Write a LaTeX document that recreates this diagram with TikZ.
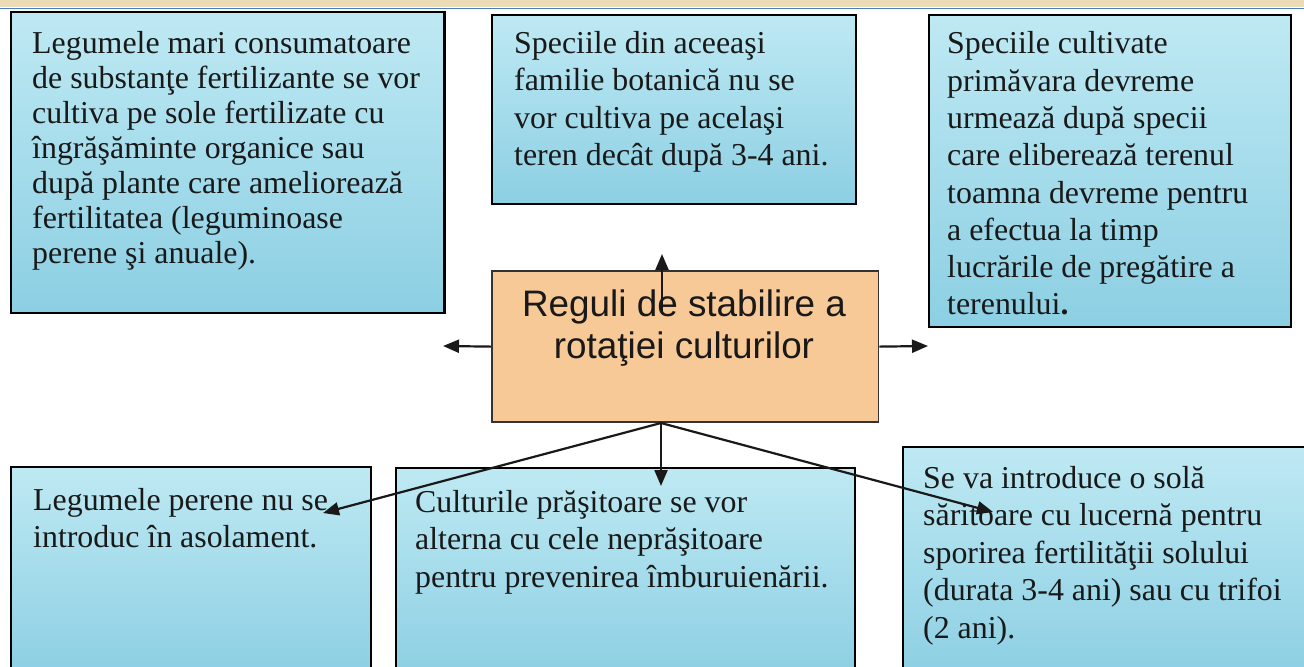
\documentclass[tikz,border=0pt]{standalone}
\usepackage{fontspec}
\setmainfont{Liberation Serif}
\newfontfamily\arialf{Liberation Sans}
\usetikzlibrary{arrows.meta,calc}
\definecolor{aqualight}{RGB}{190,233,243}
\definecolor{aquadark}{RGB}{140,207,227}
\definecolor{peach}{RGB}{247,201,150}
\definecolor{tanband}{RGB}{236,220,182}
\definecolor{blueline}{RGB}{70,125,195}
\definecolor{ink}{RGB}{25,25,25}
\begin{document}
\begin{tikzpicture}[x=1bp,y=-1bp,
  card/.style={draw=black,line width=2.2bp,top color=aqualight,bottom color=aquadark,inner sep=0,anchor=north west},
  cardtext/.style={anchor=base west,inner sep=0,align=left,text=ink,font=\fontsize{32}{37.5}\selectfont},
  hub/.style={draw=black!80,line width=1.8bp,fill=peach,inner sep=0,anchor=north west},
  link/.style={line width=2.2bp,draw=black!90,-{Triangle[length=16bp,width=13bp]}}
]
\useasboundingbox (0,0) rectangle (1304,666);
\clip (0,0) rectangle (1304,666);
\fill[white] (0,0) rectangle (1304,666);
% top band
\fill[tanband] (0,0) rectangle (1304,7.5);
\draw[blueline,line width=1.5bp] (0,8.5) -- (1304,8.5);

% cards
\node[card,minimum width=435,minimum height=302] (b1) at (10,11) {};
\node[card,minimum width=365,minimum height=190] (b2) at (491,14) {};
\node[card,minimum width=363,minimum height=313] (b3) at (928,14) {};
\node[card,minimum width=361,minimum height=210] (b4) at (10,466) {};
\node[card,minimum width=461,minimum height=210] (b5) at (395,467) {};
\node[card,minimum width=410,minimum height=230] (b6) at (902,446) {};
\node[hub,minimum width=388,minimum height=152] (c) at (491,270) {};

% texts (base anchor = baseline of the last line)
\node[cardtext,font=\fontsize{32}{35}\selectfont] (t1) at (32,263) {Legumele mari consumatoare\\de substanţe fertilizante se vor\\cultiva pe sole fertilizate cu\\îngrăşăminte organice sau\\după plante care ameliorează\\fertilitatea (leguminoase\\perene şi anuale).};
\node[cardtext] (t2) at (514,165.5) {Speciile din aceeaşi\\familie botanică nu se\\vor cultiva pe acelaşi\\teren decât după 3-4 ani.};
\node[cardtext,font=\fontsize{32}{37.4}\selectfont] (t3) at (947,314.8) {Speciile cultivate\\primăvara devreme\\urmează după specii\\care eliberează terenul\\toamna devreme pentru\\a efectua la timp\\lucrările de pregătire a\\terenului\textbf{.}};
\node[cardtext] (t4) at (33,547.5) {Legumele perene nu se\\introduc în asolament.};
\node[cardtext] (t5) at (415,587) {Culturile prăşitoare se vor\\alterna cu cele neprăşitoare\\pentru prevenirea îmburuienării.};
\node[cardtext] (t6) at (923,638) {Se va introduce o solă\\săritoare cu lucernă pentru\\sporirea fertilităţii solului\\(durata 3-4 ani) sau cu trifoi\\(2 ani).};
\node[anchor=base,inner sep=0,align=center,text=ink,font=\arialf\fontsize{37}{42}\selectfont] (ct) at (684,358) {Reguli de stabilire a\\rotaţiei culturilor};

% connector ends
\coordinate (cUp) at (662,312);
\coordinate (upTip) at (662,254);
\coordinate (leftTip) at (443,346);
\coordinate (rightTip) at (928,346);
\coordinate (cBot) at (661,423);
\coordinate (downTip) at (661,486);
\coordinate (dlTip) at (323,513);
\coordinate (drTip) at (993,512);

\draw[link] (cUp) -- (upTip);
\draw[link] (c.west) -- (leftTip);
\draw[link] (c.east) -- (rightTip);
\draw[link] (cBot) -- (downTip);
\draw[link] (cBot) -- (dlTip);
\draw[link] (cBot) -- (drTip);
\end{tikzpicture}
\end{document}
